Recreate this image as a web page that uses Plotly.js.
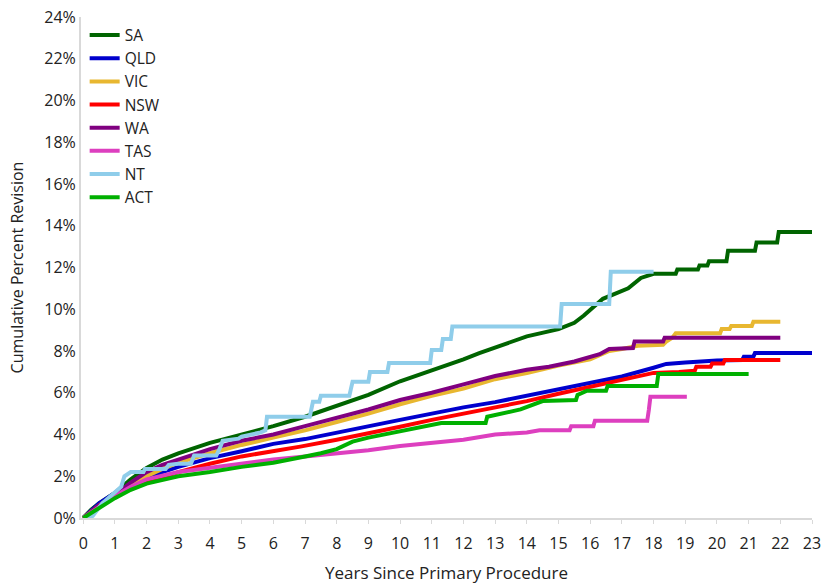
<!DOCTYPE html>
<html>
<head>
<meta charset="utf-8">
<script src="https://cdn.plot.ly/plotly-3.0.1.min.js"></script>
<style>html,body{margin:0;padding:0;background:#fff;}#chart{width:822px;height:588px;}</style>
</head>
<body>
<div id="chart"></div>
<script>
// Years since primary procedure (x) and cumulative percent revision (y)
const saX  = [0,0.25,0.5,1,1.5,2,2.5,3,4,5,6,7,8,9,10,11,12,12.5,13,14,15,15.5,15.8,16.4,17.2,17.6,18,18.7,18.75,19.4,19.45,19.7,19.75,20.3,20.35,21.2,21.25,21.9,21.95,23];
const saY  = [0,0.4,0.7,1.2,1.85,2.4,2.8,3.1,3.6,4.0,4.4,4.85,5.35,5.9,6.55,7.05,7.6,7.9,8.15,8.7,9.05,9.35,9.7,10.5,11.0,11.5,11.7,11.7,11.9,11.9,12.1,12.1,12.3,12.3,12.8,12.8,13.2,13.2,13.7,13.7];

const qldX = [0,0.5,1,1.5,2,3,4,5,6,7,8,9,10,11,12,13,14,15,16,17,18,18.4,19,20,20.8,20.85,21.15,21.2,23];
const qldY = [0,0.7,1.2,1.6,1.95,2.45,2.87,3.2,3.55,3.78,4.1,4.4,4.7,5.0,5.3,5.55,5.85,6.15,6.45,6.78,7.2,7.38,7.45,7.55,7.57,7.73,7.73,7.9,7.9];

const vicX = [0,0.5,1,1.5,2,2.5,3,4,5,6,7,8,9,10,11,12,13,14,15,16,16.6,17,17.5,18.3,18.4,18.6,18.7,20.1,20.15,20.4,20.45,21.1,21.15,22];
const vicY = [0,0.6,1.05,1.55,2.0,2.35,2.65,3.1,3.5,3.85,4.2,4.6,5.0,5.45,5.85,6.2,6.65,6.95,7.3,7.6,8.0,8.1,8.25,8.3,8.45,8.65,8.85,8.85,9.05,9.05,9.2,9.2,9.4,9.4];

const nswX = [0,0.5,1,1.5,2,3,4,5,6,6.85,8,9,10,11,12,13,14,15,16,17,18,18.8,19.3,19.35,19.8,19.85,20.2,20.25,22];
const nswY = [0,0.6,1.05,1.4,1.7,2.2,2.6,2.95,3.2,3.42,3.75,4.05,4.37,4.7,5.0,5.3,5.6,5.95,6.27,6.6,6.95,7.0,7.05,7.25,7.25,7.4,7.4,7.57,7.57];

const waX  = [0,0.5,1,1.5,2,2.5,3,4,5,6,7,8,9,10,11,12,13,14,14.7,15.5,16,16.3,16.6,17.35,17.4,18.3,18.35,22];
const waY  = [0,0.6,1.1,1.7,2.2,2.55,2.8,3.3,3.7,4.0,4.4,4.8,5.2,5.65,6.0,6.4,6.8,7.1,7.25,7.5,7.7,7.85,8.1,8.14,8.45,8.45,8.64,8.64];

const tasX = [0,0.5,1,1.5,2,3,4,5,6,7,8,9,10,11,12,13,14,14.4,15.35,15.4,16.1,16.15,17.8,17.85,17.9,19.05];
const tasY = [0,0.55,1.05,1.5,1.85,2.2,2.4,2.6,2.8,2.95,3.1,3.25,3.45,3.6,3.75,4.0,4.1,4.2,4.2,4.4,4.4,4.66,4.66,5.17,5.81,5.81];

const ntX  = [0,0.3,0.6,1.0,1.2,1.3,1.5,1.9,1.95,2.6,2.7,3.0,3.4,3.5,4.2,4.3,4.4,4.9,5.0,5.6,5.75,5.8,7.15,7.25,7.45,7.5,8.4,8.45,8.5,9.0,9.05,9.6,9.65,10.95,11.0,11.3,11.35,11.6,11.65,15.05,15.1,16.6,16.65,18.0];
const ntY  = [0,0.1,0.7,1.25,1.5,2.0,2.2,2.2,2.35,2.35,2.55,2.6,2.6,3.0,3.0,3.3,3.7,3.8,3.9,4.1,4.2,4.85,4.85,5.57,5.57,5.86,5.86,6.2,6.53,6.53,7.0,7.0,7.42,7.42,8.05,8.05,8.57,8.57,9.17,9.17,10.25,10.25,11.8,11.8];

const actX = [0,0.5,1,1.5,2,3,4,5,6,7,7.5,8,8.5,9,10,10.6,11.3,12.7,12.75,13.8,14.5,15.55,15.6,15.9,16.5,16.55,18.1,18.15,21];
const actY = [0,0.5,0.95,1.35,1.65,2.0,2.2,2.45,2.65,2.95,3.1,3.3,3.66,3.85,4.15,4.37,4.55,4.55,4.85,5.2,5.6,5.65,5.9,6.1,6.1,6.32,6.32,6.9,6.9];

const names  = ['SA','QLD','VIC','NSW','WA','TAS','NT','ACT'];
const colors = ['#006400','#0000CD','#E8B730','#FF0000','#800080','#DD3FBF','#8FCDEA','#00B000'];
const xs = [saX,qldX,vicX,nswX,waX,tasX,ntX,actX];
const ys = [saY,qldY,vicY,nswY,waY,tasY,ntY,actY];
const xTicks = [0,1,2,3,4,5,6,7,8,9,10,11,12,13,14,15,16,17,18,19,20,21,22,23];

const traces = names.map((n,i)=>({
  type:'scatter', mode:'lines', name:n, x:xs[i], y:ys[i],
  line:{color:colors[i], width:4}, cliponaxis:false
}));

const fam = '"Open Sans", "Noto Sans", sans-serif';
const layout = {
  width:822, height:588,
  margin:{l:81, r:10, t:17, b:70},
  paper_bgcolor:'#fff', plot_bgcolor:'#fff',
  font:{family:fam, size:16, color:'#222'},
  showlegend:true,
  legend:{x:0.005, y:0.997, xanchor:'left', yanchor:'top', bgcolor:'rgba(0,0,0,0)', font:{family:fam, size:15.5, color:'#222'}, itemwidth:30},
  xaxis:{range:[-0.07,23], tickvals:xTicks, ticktext:xTicks.map(String), showgrid:false, zeroline:false,
    showline:true, linecolor:'#d9d9d9', linewidth:2, ticks:'outside', ticklen:4, tickcolor:'#d9d9d9',
    ticklabelstandoff:6,
    tickfont:{family:fam, size:16, color:'#222'}, title:{text:'Years Since Primary Procedure', font:{family:fam, size:17, color:'#222'}, standoff:14}},
  yaxis:{range:[0,24], dtick:2, ticksuffix:'%', showgrid:false, zeroline:false,
    showline:true, linecolor:'#d9d9d9', linewidth:2, ticks:'', tickfont:{family:fam, size:16, color:'#222'},
    title:{text:'Cumulative Percent Revision', font:{family:fam, size:16, color:'#222'}, standoff:17}}
};
Plotly.newPlot('chart', traces, layout, {displayModeBar:false, staticPlot:true});
</script>
</body>
</html>
